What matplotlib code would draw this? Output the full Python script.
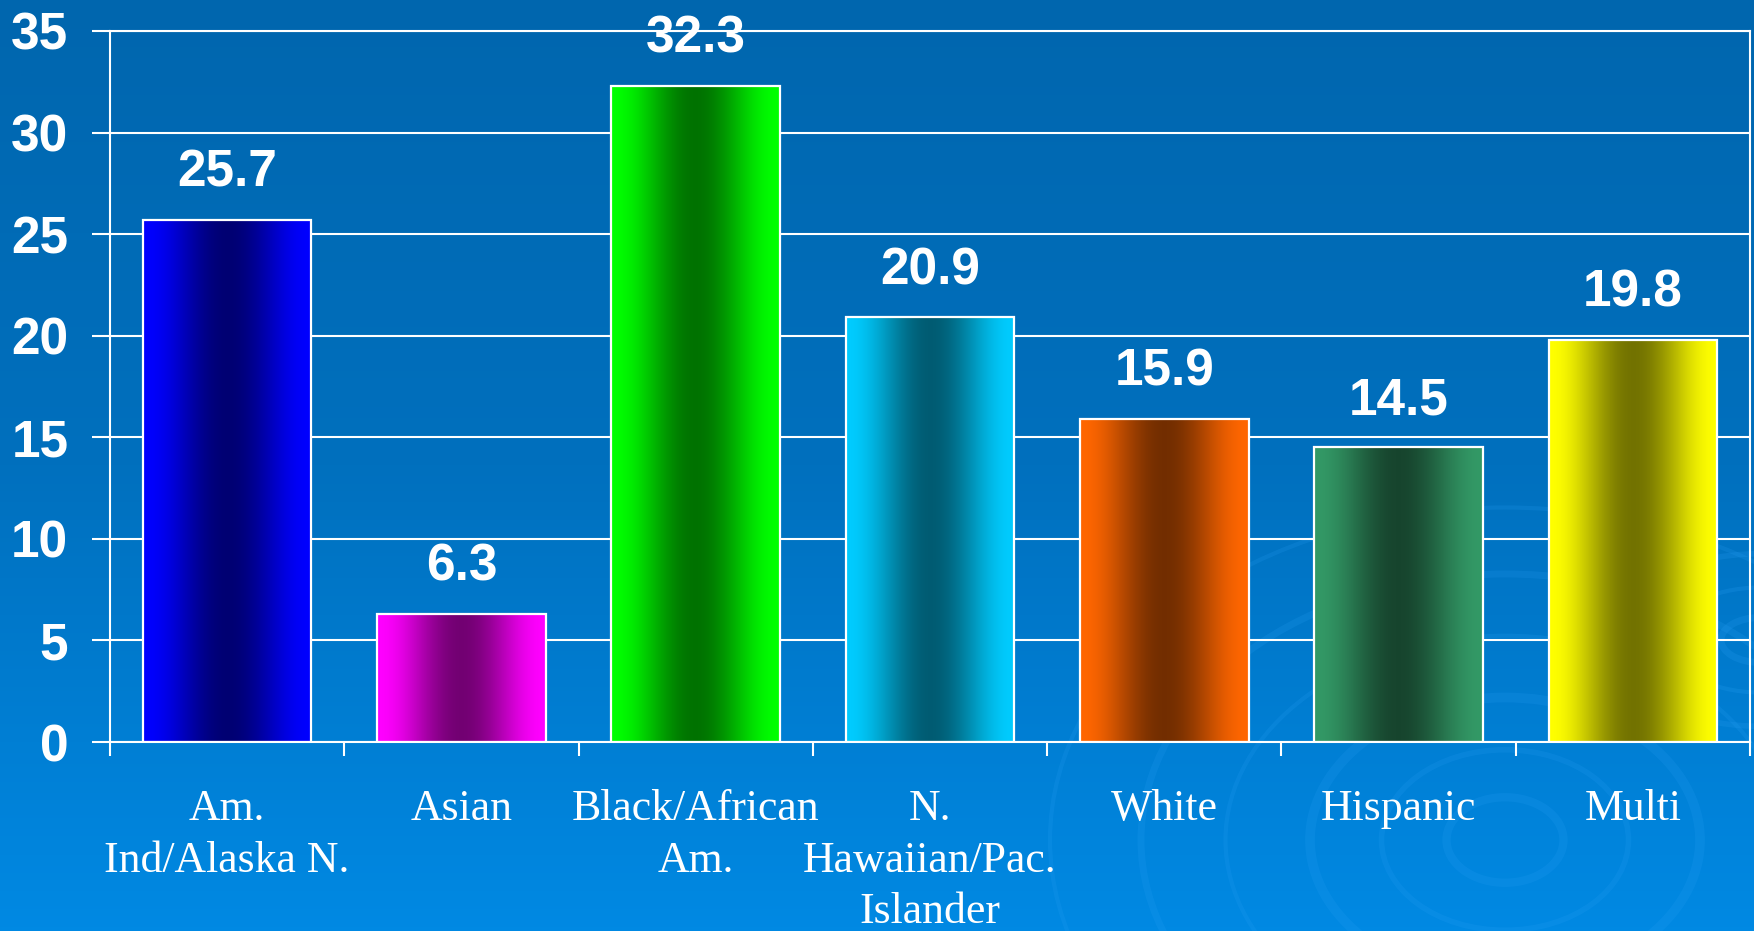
import numpy as np
import matplotlib
matplotlib.use('Agg')
import matplotlib.pyplot as plt
from matplotlib.colors import LinearSegmentedColormap, to_rgb
from matplotlib.patches import Ellipse

# data
categories = ['Am.\nInd/Alaska N.', 'Asian', 'Black/African\nAm.',
              'N.\nHawaiian/Pac.\nIslander', 'White', 'Hispanic', 'Multi']
values = [25.7, 6.3, 32.3, 20.9, 15.9, 14.5, 19.8]
bar_colors = ['#0000FF', '#FF00FF', '#00FF00', '#00CCFF', '#FF6600', '#339966', '#FFFF00']
yticks = [0, 5, 10, 15, 20, 25, 30, 35]

plt.rcParams['font.family'] = ['Liberation Sans', 'DejaVu Sans']

fig = plt.figure(figsize=(17.54, 9.31), dpi=100)

# blue slide background with a few ripple rings
bg = fig.add_axes([0, 0, 1, 1], zorder=-10)
bg_cmap = LinearSegmentedColormap.from_list('bg', ['#0066AE', '#0070BE', '#0089E3'])
grad = np.linspace(0, 1, 256).reshape(-1, 1)
bg.imshow(grad, cmap=bg_cmap, aspect='auto', extent=(0, 1754, 931, 0))
for r, lw in [(45, 6), (95, 4), (150, 7), (215, 3), (280, 5), (350, 3)]:
    bg.add_patch(Ellipse((1505, 840), 2.6 * r, 1.9 * r, fill=False,
                         edgecolor='#2aa0f5', lw=lw, alpha=0.18))
for r, lw in [(30, 5), (70, 3), (115, 4)]:
    bg.add_patch(Ellipse((1760, 640), 2.6 * r, 1.5 * r, fill=False,
                         edgecolor='#2aa0f5', lw=lw, alpha=0.2))
bg.set_xlim(0, 1754)
bg.set_ylim(931, 0)
bg.axis('off')

ax = fig.add_axes([110 / 1754, 1 - 742 / 931, 1640 / 1754, 711 / 931])
ax.patch.set_alpha(0)

x = np.arange(len(categories))
width = 0.72
bars = ax.bar(x, values, width, facecolor='none', edgecolor='white', lw=1.6, zorder=3)

# horizontal shading inside each bar: bright edges, dark middle
t = np.linspace(0, 1, 200)
shade = 1 - 0.55 * np.sin(np.pi * t) ** 2
for b, c in zip(bars, bar_colors):
    rgb = np.array(to_rgb(c))
    img = (shade[:, None] * rgb[None, :])[None, :, :]
    x0 = b.get_x()
    ax.imshow(img, extent=(x0, x0 + b.get_width(), 0, b.get_height()),
              aspect='auto', zorder=2, interpolation='bilinear')

for xi, v in zip(x, values):
    ax.annotate(f'{v}', (xi, v), xytext=(0, 24), textcoords='offset points',
                ha='center', va='baseline', fontsize=37, weight='bold', color='white')

ax.set_xlim(-0.5, len(categories) - 0.5)
ax.set_ylim(0, 35)
ax.set_yticks(yticks)
ax.set_xticks(x, categories)
ax.set_xticks(np.arange(-0.5, len(categories), 1), minor=True)

ax.tick_params(axis='y', colors='white', length=13, width=1.5, pad=17, labelsize=37)
for lab in ax.get_yticklabels():
    lab.set_fontweight('bold')
ax.tick_params(axis='x', which='major', length=0, pad=34, labelsize=31.5, labelcolor='white')
ax.tick_params(axis='x', which='minor', length=10, width=1.5, color='white')
for lab in ax.get_xticklabels():
    lab.set_family(['Liberation Serif', 'DejaVu Serif'])
    lab.set_linespacing(1.37)

ax.yaxis.grid(True, color='white', lw=1.5)
ax.set_axisbelow(True)
for s in ax.spines.values():
    s.set_color('white')
    s.set_linewidth(1.5)

fig.savefig('out.png', dpi=100)
